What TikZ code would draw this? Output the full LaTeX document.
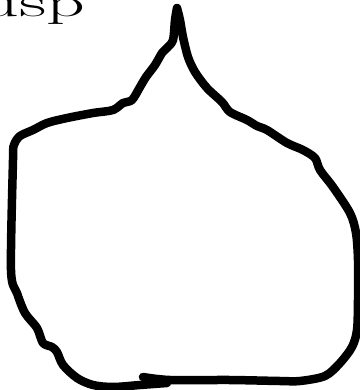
\documentclass[tikz,border=0pt]{standalone}
\usepackage{graphicx}
\tikzset{
  pen/.style={line width=8.5bp, line cap=round, line join=round},
  lbl/.style={inner sep=0pt, anchor=base west}
}
\begin{document}
\begin{tikzpicture}[x=1bp, y=-1bp]
\useasboundingbox (0,0) rectangle (360,390);
\node[lbl] (label) at (-50,16.5) {\scalebox{1}[0.54]{\fontsize{76}{80}\selectfont cusp}};
% right branch: from bottom start up to the cusp
\draw[pen] plot[smooth, tension=0.5] coordinates {
 (143,377) (170,380) (230,380) (280,381) (300,381) (325,376) (340,363)
 (352,347) (357,330) (358,300) (358,260) (356,233) (350,213) (333,187)
 (320,170) (315,158) (303,150) (287,143) (267,130) (257,126) (247,120)
 (230,112) (222,102) (207,88) (195,72) (188,57) (183,37) (180,20) (177,8)};
% left branch: from the cusp down and back to the bottom
\draw[pen] plot[smooth, tension=0.5] coordinates {
 (177,8) (175,20) (173,40) (167,48) (162,53) (155,65) (146,77) (140,87)
 (132,100) (123,103) (113,110) (93,113) (67,118) (47,123) (33,130)
 (20,136) (14,145) (13,160) (11,270) (17,293) (25,313) (37,328) (43,343)
 (52,347) (57,352) (63,365) (77,378) (93,385) (113,387) (140,385) (167,383)};
\end{tikzpicture}
\end{document}
